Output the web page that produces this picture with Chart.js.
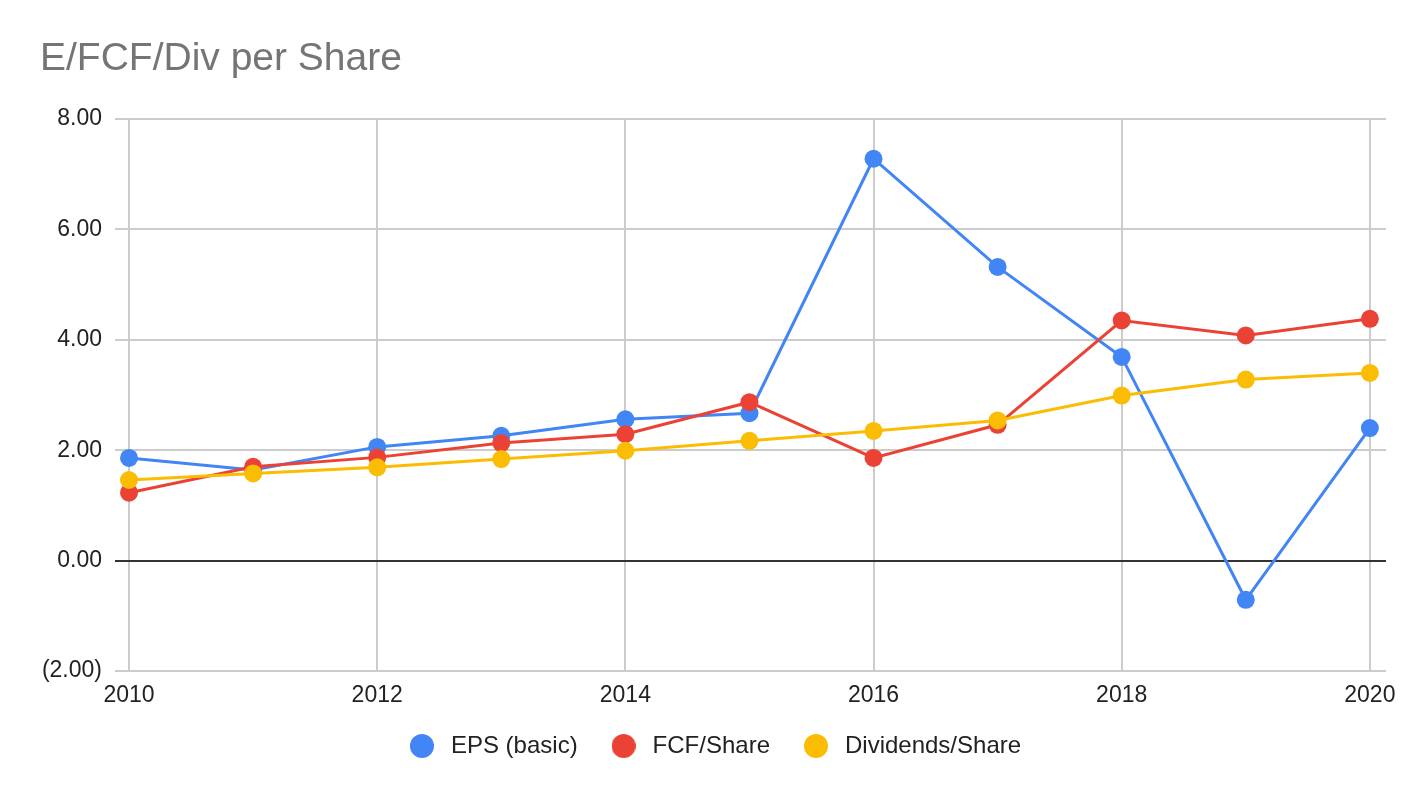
<!DOCTYPE html>
<html>
<head>
<meta charset="utf-8">
<title>E/FCF/Div per Share</title>
<script src="https://cdn.jsdelivr.net/npm/chart.js@4.4.1/dist/chart.umd.min.js"></script>
<style>
  html, body { margin: 0; padding: 0; background: #ffffff; }
  #wrap { width: 1424px; height: 798px; }
</style>
</head>
<body>
<div id="wrap"><canvas id="chart" width="1424" height="798"></canvas></div>
<script>
// Values, one entry per year.
const years = [2010, 2011, 2012, 2013, 2014, 2015, 2016, 2017, 2018, 2019, 2020];
const epsBasic = [1.86, 1.64, 2.06, 2.26, 2.56, 2.67, 7.28, 5.32, 3.69, -0.71, 2.40];
const fcfShare = [1.23, 1.70, 1.87, 2.13, 2.29, 2.87, 1.86, 2.46, 4.35, 4.08, 4.38];
const divShare = [1.46, 1.58, 1.69, 1.84, 1.99, 2.17, 2.35, 2.54, 2.99, 3.28, 3.40];

const xTicks = [2010, 2012, 2014, 2016, 2018, 2020];
const yTicks = [-2, 0, 2, 4, 6, 8];

const colors = ["#4285F4", "#EA4335", "#FBBC04"];

const FONT = "'Liberation Sans', Arial, sans-serif";

function toPoints(values) {
  return years.map((yr, i) => ({ x: yr, y: values[i] }));
}

function formatValue(v) {
  return v < 0 ? `(${Math.abs(v).toFixed(2)})` : v.toFixed(2);
}

// round legend marker; drawn as an image so the legend box can be wider than the font
function legendDot(color, r) {
  const c = document.createElement("canvas");
  c.width = c.height = r * 2;
  const g = c.getContext("2d");
  g.fillStyle = color;
  g.beginPath();
  g.arc(r, r, r, 0, Math.PI * 2);
  g.fill();
  return c;
}
const legendDots = colors.map((c) => legendDot(c, 12));

function series(label, values, color, order) {
  return {
    label,
    data: toPoints(values),
    borderColor: color,
    backgroundColor: color,
    pointBackgroundColor: color,
    pointBorderWidth: 0,
    pointRadius: 9,
    pointHoverRadius: 9,
    borderWidth: 3,
    tension: 0,
    order,
  };
}

new Chart(document.getElementById("chart"), {
  type: "line",
  data: {
    datasets: [
      series("EPS (basic)", epsBasic, colors[0], 3),
      series("FCF/Share", fcfShare, colors[1], 2),
      series("Dividends/Share", divShare, colors[2], 1),
    ],
  },
  options: {
    responsive: false,
    animation: false,
    devicePixelRatio: 1,
    layout: { padding: { left: 40, right: 38, top: 0, bottom: 30 } },
    scales: {
      x: {
        type: "linear",
        min: 2009.887,
        max: 2020.13,
        afterBuildTicks: (scale) => { scale.ticks = xTicks.map((v) => ({ value: v })); },
        afterFit: (scale) => { scale.height = 34; },
        border: { display: false },
        grid: { color: "#cccccc", lineWidth: 2, drawTicks: false },
        ticks: {
          padding: 11,
          color: "#222222",
          font: { family: FONT, size: 23 },
          maxRotation: 0,
          callback: (v) => String(v),
        },
      },
      y: {
        min: -2,
        max: 8,
        afterBuildTicks: (scale) => { scale.ticks = yTicks.map((v) => ({ value: v })); },
        afterFit: (scale) => { scale.width = 75; },
        border: { display: false },
        grid: {
          drawTicks: false,
          lineWidth: 2,
          color: (ctx) => (ctx.tick && ctx.tick.value === 0 ? "#333333" : "#cccccc"),
        },
        ticks: {
          padding: 13,
          color: "#222222",
          font: { family: FONT, size: 23 },
          callback: (v) => formatValue(v),
        },
      },
    },
    plugins: {
      title: {
        display: true,
        text: "E/FCF/Div per Share",
        align: "start",
        color: "#757575",
        font: { family: FONT, size: 39, weight: "normal" },
        padding: { top: 36, bottom: 36.2 },
      },
      legend: {
        position: "bottom",
        labels: {
          usePointStyle: true,
          pointStyleWidth: 34,
          boxHeight: 24,
          padding: 29,
          color: "#222222",
          font: { family: FONT, size: 24 },
          sort: (a, b) => a.datasetIndex - b.datasetIndex,
          generateLabels: (chart) =>
            Chart.defaults.plugins.legend.labels.generateLabels(chart).map((item) => ({
              ...item,
              pointStyle: legendDots[item.datasetIndex],
            })),
        },
      },
      tooltip: { enabled: false },
    },
  },
});
</script>
</body>
</html>
